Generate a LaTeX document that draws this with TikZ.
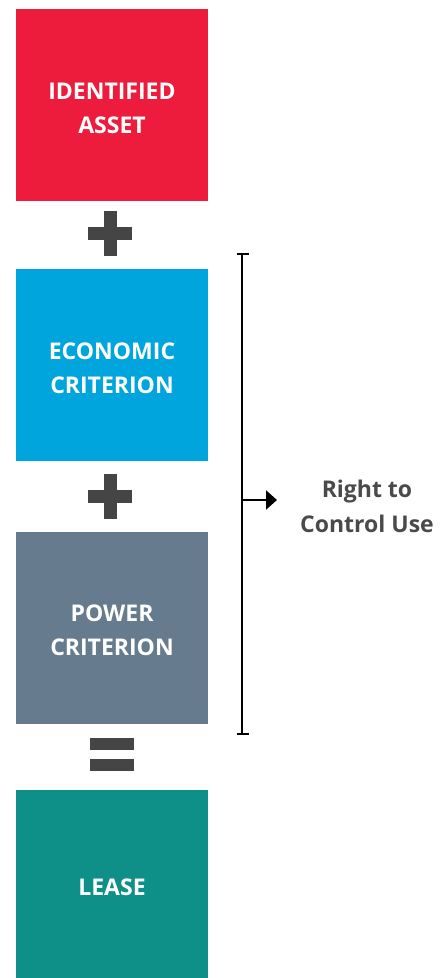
\documentclass[tikz,border=0pt]{standalone}
\usepackage{fontspec}
\setmainfont{Open Sans}
\usetikzlibrary{arrows.meta}
\definecolor{assetred}{HTML}{ED1C3C}
\definecolor{econblue}{HTML}{00A5DE}
\definecolor{powergray}{HTML}{667B8E}
\definecolor{leaseteal}{HTML}{0E8F88}
\definecolor{opgray}{HTML}{454545}
\definecolor{labelgray}{HTML}{4A4A4A}
\tikzset{
  block/.style={minimum width=192pt, minimum height=192pt, inner sep=0pt},
  blocktext/.style={text=white, inner sep=0pt, yshift=-3pt,
    font=\fontsize{23}{34}\selectfont\bfseries, align=center},
  bracket/.style={line width=2.6pt, draw=black},
}
\begin{document}
\begin{tikzpicture}[x=1pt,y=-1pt]
\useasboundingbox (0,0) rectangle (446,978);
% the four blocks
\node[block, fill=assetred,
  label={[blocktext]center:IDENTIFIED\\ASSET}] (asset) at (112,105) {};
\node[block, fill=econblue,
  label={[blocktext]center:ECONOMIC\\CRITERION}] (econ) at (112,365) {};
\node[block, fill=powergray,
  label={[blocktext]center:POWER\\CRITERION}] (power) at (112,627.5) {};
\node[block, fill=leaseteal, minimum height=188pt,
  label={[blocktext]center:LEASE}] (lease) at (112,884) {};
% plus and equals signs between the blocks
\fill[opgray] (88,227) rectangle (132,240);
\fill[opgray] (103.5,211) rectangle (116.5,256);
\fill[opgray] (88,490) rectangle (132,503);
\fill[opgray] (103.5,474) rectangle (116.5,519);
\fill[opgray] (90,738) rectangle (134,750);
\fill[opgray] (90,759) rectangle (134,771);
% bracket spanning economic and power criteria
\coordinate (btop) at (242,254);
\coordinate (bbot) at (242,734);
\coordinate (bmid) at (242,500);
\draw[bracket] (btop) -- (bbot);
\draw[bracket] (236.5,254) -- (248.5,254);
\draw[bracket] (236.5,734) -- (248.5,734);
\node[text=labelgray, font=\fontsize{23}{35}\selectfont\bfseries, align=center] (ctrl) at (367,506) {Right to\\Control Use};
\coordinate (tip) at (277,500);
\draw[line width=2.2pt, -{Triangle[length=11pt,width=19pt]}] (bmid) -- (tip);
\end{tikzpicture}
\end{document}
